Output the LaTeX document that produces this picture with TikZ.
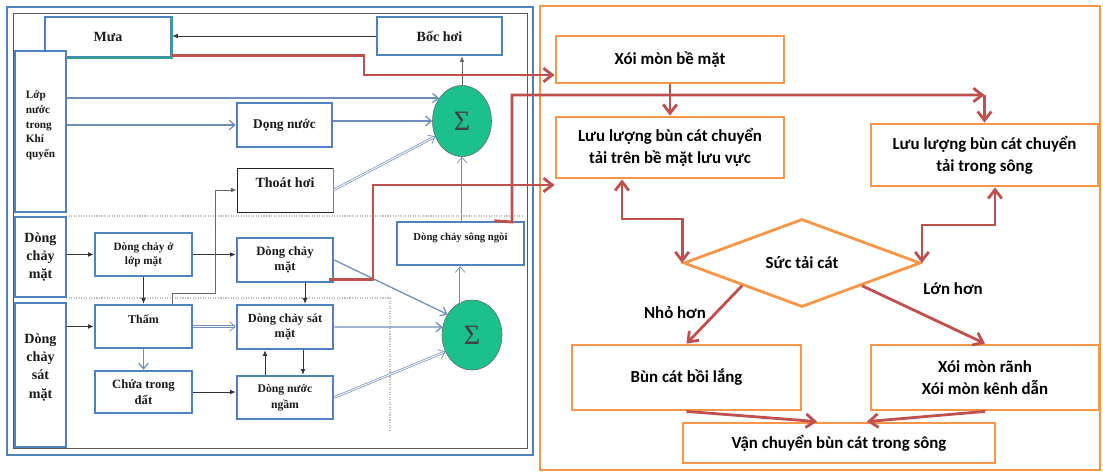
\documentclass[tikz,border=0pt]{standalone}
\usepackage{fontspec}
\setmainfont{Liberation Serif}
\newfontfamily\calfont{Carlito}
\usetikzlibrary{arrows.meta,positioning,calc,shapes.geometric}
\definecolor{cBlue}{HTML}{4F81BD}
\definecolor{cOrange}{HTML}{F79646}
\definecolor{cRed}{HTML}{C0504D}
\definecolor{cSig}{HTML}{1BC08D}
\definecolor{cFlow}{HTML}{6F8DBB}
\definecolor{cGrey}{HTML}{7F7F7F}
\definecolor{cDot}{HTML}{BFBFBF}
\definecolor{cTeal}{HTML}{2FA58A}
\definecolor{cText}{HTML}{1A1A1A}
\tikzset{
  sz/.style 2 args={minimum width=#1*0.025cm, minimum height=#2*0.025cm},
  lblk/.style={draw=cBlue, line width=1.8pt, fill=white, inner sep=1pt, align=center,
               font=\bfseries\fontsize{9}{11}\selectfont, text=cText},
  kblk/.style={lblk, draw=black!85, line width=0.7pt},
  oblk/.style={draw=cOrange, line width=2pt, fill=white, inner sep=2pt, align=center,
               font=\calfont\bfseries\fontsize{12}{15.6}\selectfont},
  sig/.style={ellipse, draw=black!60, thin, fill=cSig, inner sep=0pt,
              font=\fontsize{20}{20}\selectfont, text=black!75},
  redarr/.style={-{Straight Barb[length=2.2mm,width=3.4mm]}, line width=2pt, cRed},
  redarrs/.style={redarr, {Straight Barb[length=2.2mm,width=3.4mm]}-{Straight Barb[length=2.2mm,width=3.4mm]}},
  flowarr/.style={-{Straight Barb[length=1.4mm,width=2.4mm]}, line width=0.9pt, cFlow},
  dblarr/.style={flowarr, line width=0.5pt, double=white, double distance=0.7pt},
  thinarr/.style={-{Latex[length=1.4mm,width=1.2mm]}, semithick, black!80},
  dotln/.style={cDot, densely dotted, line width=0.8pt},
  lbl/.style={font=\calfont\bfseries\fontsize{12}{14}\selectfont}
}

\begin{document}
\begin{tikzpicture}[x=0.025cm, y=-0.025cm]
\useasboundingbox (0,0) rectangle (1103,473);
% frames
\draw[cBlue, line width=2pt] (7,7) rectangle (533,455);
\draw[black!65, line width=0.6pt] (13,13) rectangle (527,448);
\draw[cOrange, line width=1.4pt] (540,6) rectangle (1100,470);
\draw[dotln] (66,216) -- (522,216);
\draw[dotln] (66,298) -- (390,298) -- (390,430);
% left panel: water balance
\node[lblk, sz={126}{40}, font=\bfseries\fontsize{10}{12}\selectfont] (mua) at (108,37) {Mưa};
\draw[cTeal, line width=1.2pt] (mua.north east) -- (mua.south east) -- (mua.south west);
\node[lblk, sz={125}{38}, font=\bfseries\fontsize{10}{12}\selectfont] (bochoi) at (439.5,36) {Bốc hơi};
\node[lblk, sz={51}{161}, align=left, font=\bfseries\fontsize{8}{10.5}\selectfont] (lop) at (40.5,131.5) {Lớp\\nước\\trong\\Khí\\quyển\\~};
\node[lblk, sz={51}{80}, font=\bfseries\fontsize{10}{13}\selectfont] (dcm) at (40.5,257) {Dòng\\chảy\\mặt};
\node[lblk, sz={51}{144}, font=\bfseries\fontsize{10}{13}\selectfont] (dcsm) at (40.5,375) {Dòng\\chảy\\sát\\mặt\\~};
\node[lblk, sz={95}{44}, font=\bfseries\fontsize{9.5}{11}\selectfont] (dongnuoc) at (284.5,125) {Dọng nước};
\node[kblk, sz={96}{44}, font=\bfseries\fontsize{10}{11}\selectfont] (thoathoi) at (285,190) {Thoát hơi\\~};
\draw[cTeal, line width=1.2pt] (thoathoi.north east) -- (thoathoi.south east);
\node[lblk, sz={97}{43}, font=\bfseries\fontsize{8}{10}\selectfont] (dclm) at (143.5,254.5) {Dòng chảy ở\\lớp mặt};
\node[lblk, sz={96}{44}] (dcmat) at (285,260) {Dòng chảy\\mặt};
\node[lblk, sz={97}{43}, font=\bfseries\fontsize{8.5}{11}\selectfont] (tham) at (143.5,326.5) {Thấm\\~};
\node[lblk, sz={97}{42}] (chua) at (143.5,392) {Chứa trong\\đất};
\node[lblk, sz={96}{44}, font=\bfseries\fontsize{8.8}{11}\selectfont] (dcsmat) at (285,327) {Dòng chảy sát\\mặt};
\node[lblk, sz={96}{43}, font=\bfseries\fontsize{8.3}{11}\selectfont] (dnngam) at (285,397.5) {Dòng nước\\ngầm};
\node[lblk, sz={127}{43}, font=\bfseries\fontsize{7.6}{10}\selectfont] (songngoi) at (460.5,243.5) {Dòng chảy sông ngòi\\~};
\node[sig, sz={59}{71}] (sig1) at (462,121) {Σ};
\node[sig, sz={60}{70}] (sig2) at (472,335) {Σ};
% left panel: connectors
\draw[thinarr] (bochoi.west) -- (bochoi.west -| mua.east);
\draw[thinarr, black!60] (sig1.north) -- (bochoi.south -| sig1.north);
\draw[flowarr] (lop.east |- sig1.135) -- (sig1.135);
\draw[flowarr] (lop.east |- dongnuoc.west) -- (dongnuoc.west);
\draw[flowarr] (dongnuoc.east |- sig1.west) -- (sig1.west);
\draw[dblarr] (thoathoi.east) -- (sig1.210);
\draw[dblarr] (songngoi.north -| sig1.south) -- (sig1.south);
\draw[dblarr] (sig2.110) -- (songngoi.south -| sig2.110);
\draw[flowarr] (dcmat.east) -- (sig2.140);
\draw[flowarr] (dcsmat.east) -- (sig2.165);
\draw[dblarr] (dnngam.east) -- (sig2.212);
\draw[thinarr] (dcm.east |- dclm.west) -- (dclm.west);
\draw[thinarr] (dclm.east) -- (dcmat.west |- dclm.east);
\draw[thinarr] (dclm) -- (tham);
\draw[thinarr] (dcsm.east |- tham.west) -- (tham.west);
\draw[dblarr] (tham.east) -- (dcsmat.west |- tham.east);
\draw[flowarr] (tham) -- (chua);
\draw[thinarr] (chua.east) -- (dnngam.west |- chua.east);
\draw[thinarr] (dcmat.south -| 305,0) -- (dcsmat.north -| 305,0);
\draw[thinarr] (dcsmat.south -| 303,0) -- (dnngam.north -| 303,0);
\draw[thinarr] (dnngam.north -| 265,0) -- (dcsmat.south -| 265,0);
\draw[thinarr, black!60] (tham.north -| 172,0) -- (172,293) -- (215,293) |- (thoathoi.west);
% right panel: sediment
\node[oblk, sz={228}{47}] (xoimon) at (670,59.5) {Xói mòn bề mặt};
\node[oblk, sz={228}{61}] (llbm) at (670,147.5) {Lưu lượng bùn cát chuyển\\tải trên bề mặt lưu vực};
\node[oblk, sz={227}{62}] (lls) at (984.5,155) {Lưu lượng bùn cát chuyển\\tải trong sông};
\node[oblk, diamond, sz={237}{88}, inner sep=0pt] (suc) at (802,263) {Sức tải cát};
\node[oblk, sz={229}{65}] (boi) at (686.5,377.5) {Bùn cát bồi lắng};
\node[oblk, sz={228}{65}] (xoiranh) at (985,377.5) {Xói mòn rãnh\\Xói mòn kênh dẫn};
\node[oblk, sz={312}{40}] (vanchuyen) at (839,443) {Vận chuyển bùn cát trong sông};
\node[lbl] (nho) at (675,313) {Nhỏ hơn};
\node[lbl] (lon) at (953,289) {Lớn hơn};
% red links
\draw[redarr] ($(mua.south east)+(0,-3)$) -| (364,75) -- (xoimon.west |- 364,75);
\draw[redarr] ($(dcmat.south east)+(-5,-4)$) -| (373,185) -- (llbm.west |- 373,185);
\draw[redarr] ($(songngoi.north east)+(-31,0)$) -- (512,222) |- (lls.north |- 0,95);
\draw[redarr] (lls.north |- 0,95) -- (lls.north);
\draw[redarr] (xoimon) -- (llbm);
\draw[redarrs] (llbm.south -| 622,0) |- (suc.west |- 0,219) -- (suc.west);
\draw[redarrs] (suc.east) -- (suc.east |- 0,225) -| (lls.south -| 995,0);
\draw[redarr] (suc.south west) -- (boi.north);
\draw[redarr] (suc.south east) -- (xoiranh.north);
\draw[redarr] (boi.south) -- (vanchuyen.north -| 817,0);
\draw[redarr] (xoiranh.south) -- (vanchuyen.north -| 867,0);
\end{tikzpicture}
\end{document}
